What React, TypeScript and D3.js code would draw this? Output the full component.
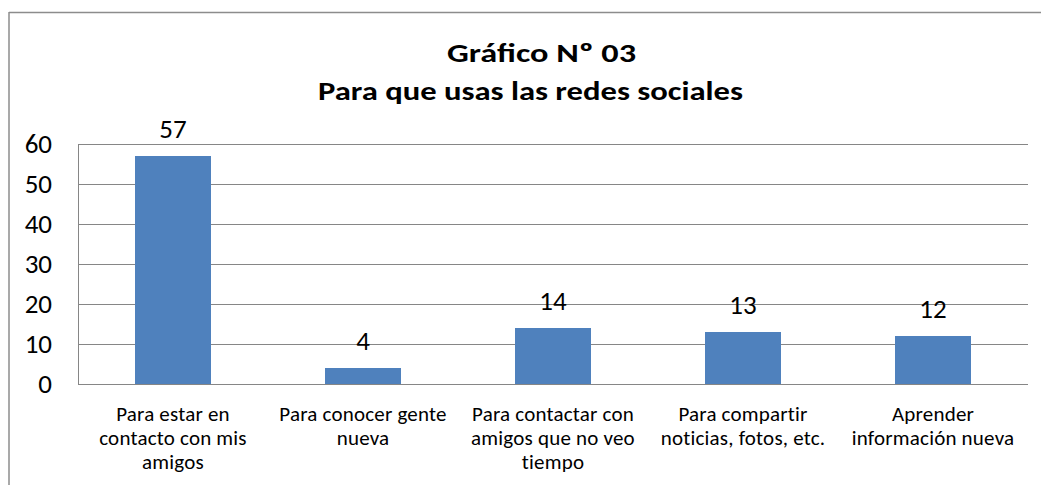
import React from "react";
import * as d3 from "d3";

const categories: string[][] = [
  ["Para estar en", "contacto con mis", "amigos"],
  ["Para conocer gente", "nueva"],
  ["Para contactar con", "amigos que no veo", "tiempo"],
  ["Para compartir", "noticias, fotos, etc."],
  ["Aprender", "información nueva"],
];
const values: number[] = [57, 4, 14, 13, 12];
const yTicks: number[] = [0, 10, 20, 30, 40, 50, 60];
const titleLines: string[] = ["Gráfico Nº 03", "Para que usas las redes sociales"];

const W = 1041;
const H = 485;
const plot = { left: 78, right: 1028, top: 144, bottom: 384 };
const FONT = "Carlito, Calibri, 'Liberation Sans', Arial, sans-serif";

export default function App() {
  const x = d3
    .scaleBand<number>()
    .domain(values.map((_, i) => i))
    .range([plot.left, plot.right])
    .paddingInner(0.6)
    .paddingOuter(0.3);
  const y = d3.scaleLinear().domain([0, 60]).range([plot.bottom, plot.top]);

  return (
    <svg
      width={W}
      height={H}
      style={{ position: "absolute", left: 0, top: 0, background: "#fff" }}
      fontFamily={FONT}
    >
      <rect x={0} y={0} width={W} height={H} fill="#fff" />
      {/* chart border */}
      <line x1={9} x2={W} y1={12.5} y2={12.5} stroke="#8c8c8c" strokeWidth={1.5} />
      <line x1={9} x2={9} y1={12} y2={H} stroke="#8c8c8c" strokeWidth={1.5} />

      {/* title */}
      <text x={447} y={62} fontSize={27} fontWeight="bold" fill="#000" textLength={189} lengthAdjust="spacingAndGlyphs">
        {titleLines[0]}
      </text>
      <text x={318} y={100} fontSize={27} fontWeight="bold" fill="#000" textLength={425} lengthAdjust="spacingAndGlyphs">
        {titleLines[1]}
      </text>

      {/* gridlines */}
      {yTicks.map((t) => (
        <line
          key={t}
          x1={plot.left}
          x2={plot.right}
          y1={Math.round(y(t)) + 0.5}
          y2={Math.round(y(t)) + 0.5}
          stroke="#868686"
          strokeWidth={1}
        />
      ))}
      <line x1={plot.left + 0.5} x2={plot.left + 0.5} y1={plot.top} y2={plot.bottom} stroke="#868686" />

      {/* y tick labels */}
      {yTicks.map((t) => (
        <text key={t} x={52} y={y(t) + 9} textAnchor="end" fontSize={27} fill="#000">
          {t}
        </text>
      ))}

      {/* bars */}
      {values.map((v, i) => (
        <rect
          key={i}
          x={x(i)!}
          y={y(v)}
          width={x.bandwidth()}
          height={y(0) - y(v)}
          fill="#4F81BD"
        />
      ))}

      {/* data labels */}
      {values.map((v, i) => (
        <text
          key={i}
          x={x(i)! + x.bandwidth() / 2}
          y={y(v) - 18}
          textAnchor="middle"
          fontSize={27}
          fill="#000"
        >
          {v}
        </text>
      ))}

      {/* category labels */}
      {categories.map((lines, i) => (
        <text
          key={i}
          x={x(i)! + x.bandwidth() / 2}
          y={421}
          textAnchor="middle"
          fontSize={21}
          letterSpacing={0.2}
          fill="#000"
        >
          {lines.map((l, j) => (
            <tspan key={j} x={x(i)! + x.bandwidth() / 2} dy={j === 0 ? 0 : 24}>
              {l}
            </tspan>
          ))}
        </text>
      ))}
    </svg>
  );
}
